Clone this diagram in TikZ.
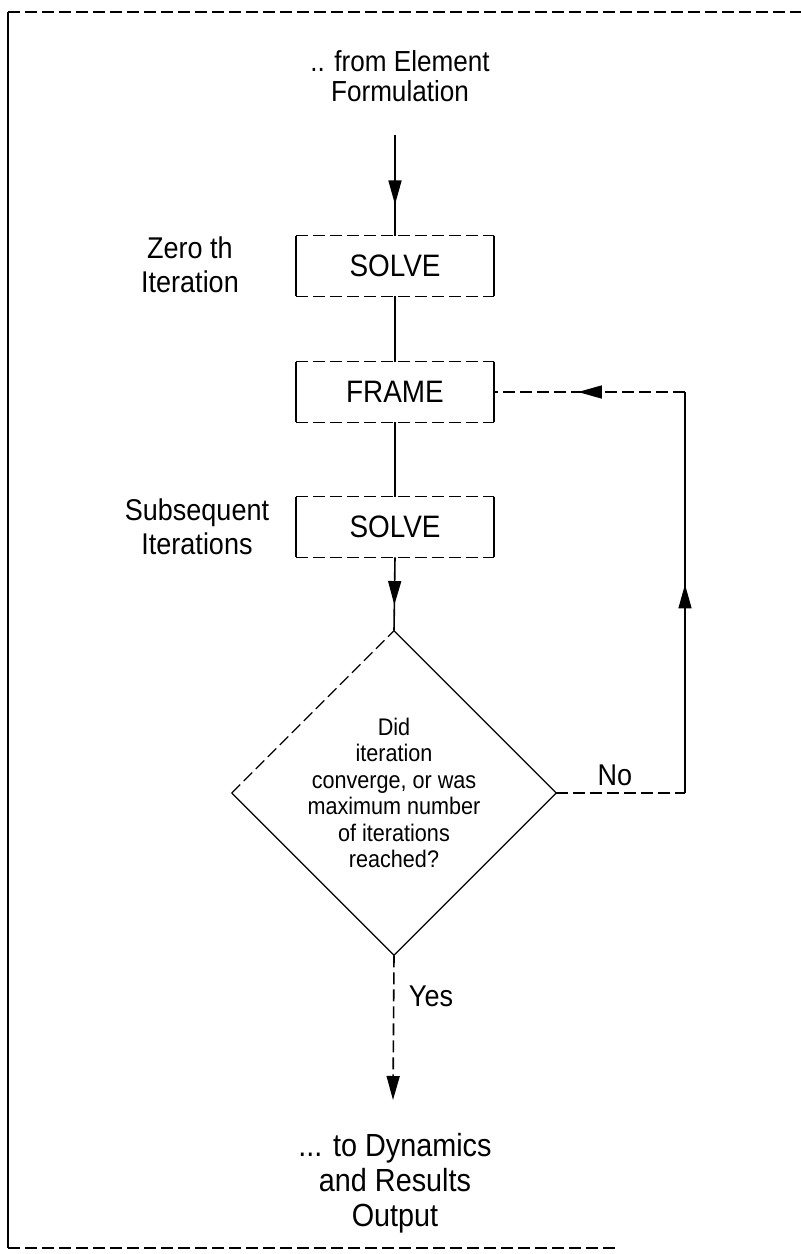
\documentclass[tikz,border=0pt]{standalone}
\usepackage{fontspec}
\setmainfont[FakeStretch=0.9]{Liberation Sans}
\usetikzlibrary{arrows.meta,decorations.markings,shapes.geometric}
\begin{document}
\begin{tikzpicture}[x=1pt,y=1pt,
  line width=1.6pt,
  dsh/.style={dash pattern=on 12pt off 5pt},
  tri/.tip={Triangle[length=24pt,width=13pt]},
  midarrow/.style={postaction={decorate},decoration={markings,
     mark=at position #1 with {\arrow[solid]{tri}}}},
  boxnode/.style={minimum width=196pt,minimum height=59pt,inner sep=0pt,
     font=\fontsize{31}{34}\selectfont},
  lbl/.style={align=center,font=\fontsize{30}{34}\selectfont},
  dtext/.style={align=center,font=\fontsize{24}{26.5}\selectfont}
]
\useasboundingbox (0,0) rectangle (801,-1254);
% outer frame
\draw[dsh] (8,-12) -- (801,-12);
\draw (8,-12) -- (8,-1248);
\draw[dsh] (8,-1248) -- (617,-1248);

% nodes
\node[lbl,font=\fontsize{29}{30.5}\selectfont] (from) at (400,-76) {.. from Element\\Formulation};
\coordinate (tin) at (395,-135);
\node[boxnode] (s1) at (395,-266) {SOLVE};
\node[boxnode] (fr) at (395,-392) {FRAME};
\node[boxnode] (s2) at (395,-527) {SOLVE};
\node[lbl] (lz) at (190,-265) {Zero th\\Iteration};
\node[lbl] (ls) at (197,-527) {Subsequent\\Iterations};
\node[diamond,draw=none,minimum width=316pt,minimum height=313pt,inner sep=0pt,dtext] (dia) at (394,-793)
  {Did\\iteration\\converge, or was\\maximum number\\of iterations\\reached?};
\node[lbl] (no) at (615,-775) {No};
\node[lbl] (yes) at (431,-996) {Yes};
\coordinate (yend) at (393,-1100);
\node[lbl,font=\fontsize{32}{35}\selectfont] (out) at (395,-1183) {... to Dynamics\\and Results\\Output};
\coordinate (cr) at (685,-793);
\coordinate (ct) at (685,-392);

% box sides: solid verticals, dashed horizontals
\foreach \n in {s1,fr,s2}{
  \draw (\n.north west) -- (\n.south west) (\n.north east) -- (\n.south east);
  \draw[dsh,line width=1.2pt] (\n.north west) -- (\n.north east) (\n.south west) -- (\n.south east);
}
% diamond edges
\draw[line width=1.2pt,dsh] (dia.west) -- (dia.north);
\draw[line width=1.2pt] (dia.north) -- (dia.east) -- (dia.south) -- (dia.west);

% connectors
\draw[midarrow=0.69] (tin) -- (s1.north);
\draw (s1.south) -- (fr.north);
\draw (fr.south) -- (s2.north);
\draw[midarrow=0.65] (s2.south) -- (dia.north);
\draw[dsh,-{tri}] (dia.south) -- (yend);
\draw[dsh] (dia.east) -- (cr);
\draw[midarrow=0.52] (cr) -- (ct);
\draw[dsh,midarrow=0.56] (ct) -- (fr.east);
\end{tikzpicture}
\end{document}
